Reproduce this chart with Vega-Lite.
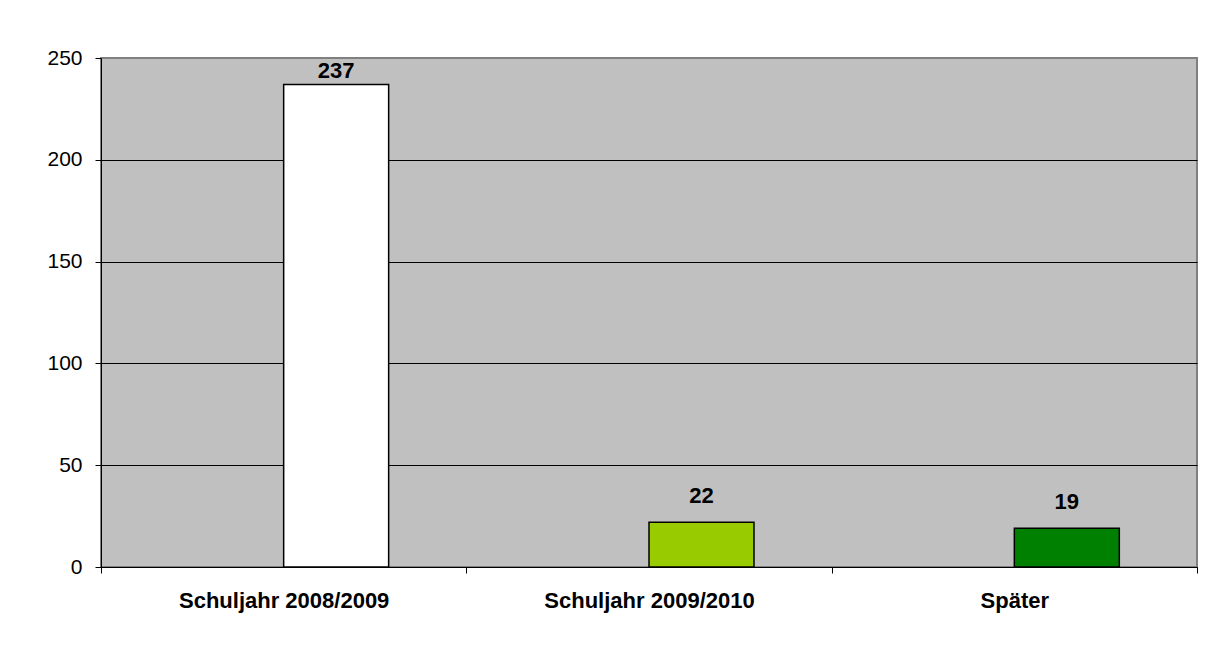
{
  "$schema": "https://vega.github.io/schema/vega-lite/v6.json",
  "width": 1096,
  "height": 509,
  "autosize": {"type": "none"},
  "padding": {"left": 101, "top": 58, "right": 32, "bottom": 80},
  "background": "white",
  "config": {
    "view": {"fill": "#C0C0C0", "stroke": "#808080", "strokeWidth": 2},
    "font": "Liberation Sans"
  },
  "data": {
    "values": [
      {"category": "Schuljahr 2008/2009", "value": 237, "slot": "b"},
      {"category": "Schuljahr 2009/2010", "value": 22, "slot": "b"},
      {"category": "Später", "value": 19, "slot": "b"}
    ]
  },
  "encoding": {
    "x": {
      "field": "category",
      "type": "nominal",
      "sort": null,
      "scale": {"paddingInner": 0, "paddingOuter": 0},
      "axis": {
        "title": null,
        "labelAngle": 0,
        "tickBand": "extent",
        "tickSize": 6,
        "tickColor": "black",
        "domainColor": "black",
        "labelFont": "Liberation Sans",
        "labelFontSize": 22,
        "labelFontWeight": "bold",
        "labelColor": "black",
        "labelPadding": 17,
        "labelBaseline": "top",
        "labelLimit": 500,
        "grid": false
      }
    },
    "xOffset": {
      "field": "slot",
      "type": "nominal",
      "scale": {"domain": ["a", "b"], "paddingInner": 0, "paddingOuter": 0.74}
    },
    "y": {
      "field": "value",
      "type": "quantitative",
      "scale": {"domain": [0, 250], "nice": false},
      "axis": {
        "title": null,
        "values": [0, 50, 100, 150, 200, 250],
        "tickSize": 6,
        "tickColor": "black",
        "domainColor": "black",
        "labelFont": "Liberation Sans",
        "labelFontSize": 21,
        "labelColor": "black",
        "labelPadding": 13,
        "grid": true,
        "gridColor": {"condition": {"test": "datum.value == 250", "value": "#808080"}, "value": "black"},
        "gridOpacity": 1,
        "gridWidth": 1
      }
    }
  },
  "layer": [
    {
      "mark": {"type": "bar", "stroke": "black", "strokeWidth": 1.5},
      "encoding": {
        "color": {
          "field": "category",
          "type": "nominal",
          "scale": {
            "domain": ["Schuljahr 2008/2009", "Schuljahr 2009/2010", "Später"],
            "range": ["#FFFFFF", "#99CC00", "#008000"]
          },
          "legend": null
        }
      }
    },
    {
      "transform": [{"filter": "datum.value < 200"}],
      "mark": {"type": "text", "baseline": "alphabetic", "dy": -19, "font": "Liberation Sans", "fontSize": 22, "fontWeight": "bold", "color": "black"},
      "encoding": {"text": {"field": "value", "type": "quantitative"}}
    },
    {
      "transform": [{"filter": "datum.value >= 200"}],
      "mark": {"type": "text", "baseline": "alphabetic", "dy": -6, "font": "Liberation Sans", "fontSize": 22, "fontWeight": "bold", "color": "black"},
      "encoding": {"text": {"field": "value", "type": "quantitative"}}
    }
  ]
}
